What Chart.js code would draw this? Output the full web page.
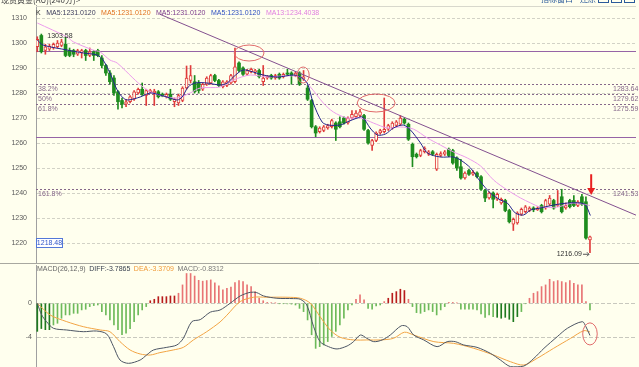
<!DOCTYPE html>
<html>
<head>
<meta charset="utf-8">
<title>现货黄金(AU)(240分)</title>
<script src="https://cdn.jsdelivr.net/npm/chart.js@4.4.1/dist/chart.umd.min.js"></script>
<style>
  html, body { margin: 0; padding: 0; background: #FFFFEE; }
  #stage { position: relative; width: 639px; height: 367px; overflow: hidden; background: #FFFFEE; }
  #priceChart { position: absolute; left: 0; top: 0; }
  #macdChart { position: absolute; left: 0; top: 263px; }
</style>
</head>
<body>
<div id="stage">
  <canvas id="priceChart" width="639" height="264"></canvas>
  <canvas id="macdChart" width="639" height="104"></canvas>
</div>
<script>
// 240 minute bars
var opens = [1298.5,1303,1297,1297.5,1298,1298.5,1299,1299.5,1297,1297,1295.5,1296,1297,1295,1296.5,1297,1294,1291,1288,1286,
  1280.5,1277,1275.5,1276.5,1277.5,1280,1281.5,1279,1280.5,1280,1280.5,1279.5,1278.5,1279.5,1276.5,1276,1277,1282,1285,1284.5,
  1284,1281.5,1283.5,1284,1287,1285,1282.5,1283,1284,1284.5,1292,1290,1287.5,1288.5,1288.5,1289,1284.5,1286,1287,1286,
  1287.5,1286.5,1288,1288,1287,1288,1285.5,1282,1277,1266.5,1264.5,1265,1266,1266.5,1268,1268.5,1270,1268,1270,1270.5,
  1271,1271,1265,1259,1261,1264,1264.5,1265.5,1266,1267,1267.5,1269.5,1267.5,1259.5,1255.5,1255,1256.5,1255.5,1256.5,1249.5,
  1255,1255.5,1257.5,1257,1254,1250.5,1246,1249,1247.5,1248,1246.5,1241,1238,1240,1237.5,1236,1237,1233,1227.5,1228,
  1231.5,1232.5,1233,1234,1233.3,1235,1234,1235.5,1237,1235,1238.5,1234,1237,1237,1235,1238.5,1236.5,1221.2];
var highs = [1302.5,1303.58,1299.5,1299.5,1300,1301,1301.5,1302.5,1298,1297.5,1297.5,1297.5,1297.5,1298,1297,1297.5,1295,1291.5,1289,1287,
  1281,1278,1277.5,1279,1281,1282,1284,1281.5,1281.5,1281.5,1281,1280,1280,1281.5,1278,1279.5,1282.5,1290.8,1291,1287,
  1285,1284,1286.5,1287.5,1287.5,1285.5,1285,1285,1287.5,1298,1292.5,1290.5,1289.5,1290,1289.5,1289.5,1291,1287,1287.5,1287.5,
  1288,1288,1289.5,1288.5,1288.5,1288.5,1289,1283,1277.5,1267,1266.5,1267,1267.5,1269.5,1268.5,1270.5,1270.5,1270.5,1273,1273,
  1273.5,1271.5,1265.5,1261.5,1264.5,1265.5,1278,1267.5,1268.5,1269,1271,1270,1268,1260,1256,1257.5,1258.5,1257,1257,1256,
  1256.5,1257,1258,1257.5,1254.5,1253.5,1248.5,1249.5,1249,1248.5,1247,1241.5,1240.5,1240.5,1240,1238,1237.5,1233.5,1230,1232.5,
  1234,1235,1234.5,1234.5,1234.5,1235.5,1237.5,1239,1237.5,1241,1241.5,1236,1237.5,1239,1237,1239.5,1238.5,1222.8];
var lows = [1296.5,1296,1295.5,1297,1297.5,1298,1298.5,1294.5,1294.5,1294.5,1295,1294,1293,1294.5,1293,1294.5,1290,1287,1283.5,1279,
  1273.5,1274,1274.5,1276,1277,1279.5,1279,1275,1280,1275,1278,1278.5,1278,1277,1274.5,1275,1276.5,1281.5,1284,1280,
  1280,1281,1283,1283.5,1284.5,1282.5,1282,1282.5,1283.5,1284,1288.5,1287,1287,1288,1287.5,1286,1283,1285.5,1285.5,1285.5,
  1285.5,1286,1287,1283.5,1286.5,1283,1285,1277,1266,1262.5,1264,1264.5,1265.5,1266,1261,1266,1267.5,1267.5,1269.5,1270,
  1270.5,1265,1259.5,1257,1260.5,1263.5,1264,1265,1265.5,1266.5,1267,1267.5,1261,1250.5,1254,1254.5,1256,1255,1255,1249,
  1254.5,1255,1254.5,1251.5,1249,1245.5,1245.5,1247,1247,1246,1241,1236.5,1237.5,1234,1237,1235.5,1232.5,1228,1225,1227.5,
  1231,1232,1232.5,1232.5,1233,1232,1233.5,1235,1233.5,1234.5,1232,1233.5,1234,1234.5,1234.5,1235,1221.5,1216.09];
var closes = [1301.5,1296.5,1298.5,1298.8,1299.5,1300,1300.5,1295,1295,1295.5,1297,1297,1295,1296.5,1295,1295,1291,1288,1284.5,1280,
  1276.5,1275.5,1276.5,1278.5,1280.5,1281.5,1279.5,1281,1281,1280.8,1278.5,1278.8,1279.5,1277.5,1277.5,1279,1282,1286,1287,1280.5,
  1281,1283.5,1286,1287,1285,1283,1284.5,1284.5,1287,1290.5,1289,1287.5,1289,1289.5,1289,1286.5,1286,1286.8,1286,1287,
  1286,1287.5,1287.5,1287,1288,1283.5,1286.5,1277.5,1266.5,1264,1266,1266.5,1267,1269,1265.5,1266.5,1268,1270,1271.5,1272,
  1272.5,1265.5,1260,1261,1264,1265,1265.5,1267,1268,1268.5,1270,1268,1261.5,1254.5,1254.5,1257,1258,1256.5,1255.5,1255.5,
  1255.8,1256.5,1255,1252,1250,1246,1248,1247.5,1248.3,1246.5,1241.5,1238,1240,1237.5,1239.5,1237.5,1233,1228.5,1229.5,1232,
  1233.5,1234.5,1234,1233.3,1234,1232.5,1237,1238,1234,1235.5,1232.5,1235,1234.5,1235,1236.5,1235.5,1222,1222.5];

// moving averages as [bar, price]
var ma5Points = [[0,1301.2],[1.4,1299.2],[7.4,1297.2],[11.4,1296],[14.8,1295.2],[16.3,1293.2],[18,1288],[19.8,1281.2],[21.3,1278],[22.5,1277.2],
  [25.5,1278.4],[28,1280],[30.4,1279.2],[32.9,1278],[34.7,1277.2],[35.9,1278.4],[37.4,1282.4],[39.1,1284],[42.1,1284],[45.3,1283.2],
  [47.1,1284],[48.6,1286.4],[51,1289.2],[53.5,1288.4],[56,1287.2],[59.5,1286.4],[63.5,1287.2],[65.2,1286.4],[66.9,1284],[68.4,1276],
  [70.6,1268.4],[72.1,1267.2],[75.1,1267.2],[76.8,1268.4],[79.3,1270],[80.6,1270.4],[82.5,1266],[84.3,1263.2],[86.3,1263.6],[88.3,1266],
  [90.7,1267.2],[92.5,1265.2],[95,1260],[96.7,1256],[99.9,1254.4],[103.2,1254.4],[104.9,1253.2],[107.4,1250],[109.9,1244.4],[112.3,1240],
  [114.8,1237.2],[116.5,1236],[118.5,1232],[120.5,1231.2],[122.3,1233.2],[124.7,1234],[128,1235.2],[131.4,1236],[134.7,1236],[135.9,1235.2],[137.1,1231]];
var ma13Points = [[0,1308],[7.4,1302.4],[8.9,1300.5],[13.8,1297.2],[15.6,1296.4],[18,1293.2],[19.8,1292],[23.7,1286],[26.2,1282.4],[28.7,1280],
  [32.2,1278.4],[34.7,1278],[37.9,1280],[40.4,1282],[45.3,1282.4],[48.6,1285.2],[52.8,1287.2],[57,1286.4],[61,1286.8],[65.2,1286.4],
  [67.7,1282.4],[70.9,1276],[73.4,1272.4],[76.8,1270],[80.1,1270],[83.3,1268],[86.8,1266],[90,1266.4],[93.2,1265.6],[96.7,1262],
  [99.9,1259.2],[103.2,1256.4],[106.6,1254],[109.9,1250.8],[113.1,1245.2],[116.5,1241.2],[119.8,1238],[122.3,1236],[124.7,1234.4],[128.9,1234.4],
  [132.9,1236],[137,1235]];

// MACD(26,12,9)
var macdHist = [-3.3,-2.97,-3.1,-3.1,-2.55,-2.35,-1.76,-1.37,-1.37,-1.18,-1.18,-0.78,-0.7,-0.39,-0.27,-0.2,-0.98,-1.37,-1.96,-2.55,
  -3.1,-3.7,-3.5,-2.97,-2.16,-1.37,-0.78,-0.39,0.3,0.47,0.78,0.78,0.78,0.86,0.86,1.18,2.16,3.5,3.5,3.2,
  2.7,2.6,2.67,2.75,2.4,2.04,1.57,1.76,1.9,2.43,2.67,2.55,2.16,1.96,1.37,0.59,0.3,0.1,0.07,0.03,
  -0.05,-0.05,-0.07,-0.1,-0.2,-0.6,-0.98,-1.96,-3.7,-5.3,-5.1,-4.9,-4.5,-3.9,-3.3,-2.55,-1.76,-0.78,-0.2,0.47,
  0.98,0.4,-0.6,-0.7,-0.3,-0.2,0.2,0.59,1.18,1.37,1.65,1.5,0.47,-0.39,-1.1,-1.18,-0.98,-0.78,-0.98,-1.37,
  -0.78,-0.39,0.1,0.1,0.03,-0.7,-0.7,-0.7,-0.7,-0.78,-1.25,-1.65,-1.37,-1.57,-1.65,-1.76,-1.65,-1.88,-2.16,-1.57,
  -0.98,-0.05,0.59,1.18,1.37,1.96,2.16,2.82,2.55,2.67,2.55,2.43,2.67,2.35,2.16,2.16,0.2,-0.78];
var diffPoints = [[0,0],[1.1,-1.38],[2.3,-2.16],[4,-2.94],[7.3,-3.14],[11.4,-3.34],[14.7,-3.26],[17.2,-3.61],[18.9,-5.1],[20.5,-6.67],
  [22.6,-7.06],[25.5,-6.67],[27.1,-6.08],[28.8,-5.49],[32.1,-5.18],[34.6,-4.9],[36.2,-4.12],[38.3,-2.16],[40.4,-1.92],[42.9,-1.04],
  [45.3,-0.79],[47.8,0],[50.3,0.86],[52.8,1.29],[54.4,1.25],[56.1,0.86],[59.4,0.59],[63.5,0.55],[65.2,0.47],[66.8,-0.2],
  [68.5,-2.75],[70.1,-4.51],[72.2,-5.1],[74.3,-5.37],[76.8,-5.02],[78.4,-4.51],[80.1,-3.73],[81.7,-4.12],[83.4,-4.51],[85.5,-4.31],
  [87.5,-3.73],[90.2,-2.65],[91.7,-2.75],[93.3,-3.73],[95.8,-4.31],[99.1,-5.1],[101.6,-4.51],[103.6,-4.51],[105.7,-4.9],[109,-5.18],
  [112.3,-5.88],[114.8,-6.67],[117.3,-7.45],[120.6,-7.38],[123.1,-6.47],[125.6,-5.29],[128.9,-3.92],[131.4,-2.94],[135.1,-2.16],[136,-2.75],[137,-3.79]];
var deaPoints = [[0,0],[3.2,-1.38],[7.3,-2.16],[11.4,-2.75],[15.6,-3.14],[18,-3.34],[20.5,-4.51],[23,-5.49],[25.5,-5.96],[28,-6.08],
  [30.4,-5.8],[33.7,-5.49],[36.2,-5.18],[38.7,-4.31],[42,-3.34],[45.3,-2.2],[47,-1.4],[50.3,0.2],[53.6,0.71],[56.9,0.71],
  [61.9,0.71],[65.2,0.59],[67.7,0],[70.1,-1.57],[72.6,-3.14],[75.1,-4],[78.4,-4.31],[81.7,-4.31],[85,-4.31],[88.3,-4.12],
  [91,-3.4],[93.3,-3.73],[98.3,-4.51],[103.2,-4.71],[108.2,-5.29],[113.1,-6.08],[117.3,-6.87],[120.6,-7.26],[123.9,-6.47],[128,-5.29],
  [132.2,-4.12],[135.5,-3.22],[137,-3.37]];

var priceTicks = [1220, 1230, 1240, 1250, 1260, 1270, 1280, 1290, 1300, 1310];
var macdTicks = [0, -4];

// fibonacci retracement drawn on the chart
var boxLevels = [1296.66, 1262.59];
var fibLevels = [1283.64, 1279.62, 1275.59, 1241.53];
var fibNames = ['38.2%', '50%', '61.8%', '161.8%'];
var trendPoints = [[30.4, 1311.5], [149.5, 1230.4]];
var lastPrice = 1218.48;

var legendItems = [['K', '#333333'], ['MA5:1231.0120', '#3C3C5C'], ['MA5:1231.0120', '#E0701E'],
  ['MA5:1231.0120', '#7A3A8A'], ['MA5:1231.0120', '#2F4FC0'], ['MA13:1234.4038', '#E07EE0']];
var macdLegend = [['MACD(26,12,9)', '#666666'], ['DIFF:-3.7865', '#3A4250'], ['DEA:-3.3709', '#F09A38'], ['MACD:-0.8312', '#777777']];

var BG = '#FFFFEE';
var UP = '#E03C3C';
var DOWN = '#1E8C1E';
var FONT = '"Liberation Sans", Arial, sans-serif';
var X_MIN = -0.322, X_MAX = 148.41;

function isUp(i) { return closes[i] >= opens[i]; }

function toXY(points) {
  return points.map(function(p) { return { x: p[0], y: p[1] }; });
}

function drawRun(ctx, items, x, y, gap) {
  items.forEach(function(it) {
    ctx.fillStyle = it[1];
    ctx.fillText(it[0], x, y);
    x += ctx.measureText(it[0]).width + gap;
  });
}

function ring(ctx, xs, ys, cx, cy, dx, dy) {
  var px = xs.getPixelForValue(cx), py = ys.getPixelForValue(cy);
  var rx = Math.abs(xs.getPixelForValue(cx + dx) - px);
  var ry = Math.abs(ys.getPixelForValue(cy + dy) - py);
  ctx.beginPath();
  ctx.ellipse(px, py, rx, ry, 0, 0, Math.PI * 2);
  ctx.stroke();
}

// keep the axis from pushing the plot area in for its end labels
function fixAxis(axis) {
  axis.width = 36;
  axis.paddingTop = 0;
  axis.paddingBottom = 0;
}

var priceOverlay = {
  id: 'priceOverlay',
  beforeDatasetsDraw: function(chart) {
    var ctx = chart.ctx, a = chart.chartArea, ys = chart.scales.y;
    ctx.save();
    ctx.lineWidth = 1;
    ctx.strokeStyle = '#9664A6';
    boxLevels.forEach(function(v) {
      var py = Math.round(ys.getPixelForValue(v)) + 0.5;
      ctx.beginPath(); ctx.moveTo(a.left, py); ctx.lineTo(a.right, py); ctx.stroke();
    });
    ctx.setLineDash([2, 2]);
    ctx.strokeStyle = '#86688A';
    ctx.font = '7px ' + FONT;
    ctx.fillStyle = '#86688A';
    ctx.textBaseline = 'top';
    fibLevels.forEach(function(v, k) {
      var py = Math.round(ys.getPixelForValue(v)) + 0.5;
      ctx.beginPath(); ctx.moveTo(a.left, py); ctx.lineTo(a.right, py); ctx.stroke();
      ctx.fillText(fibNames[k], a.left + 2, py + 1);
      ctx.fillText(v.toFixed(2), a.right - 23, py + 1);
    });
    ctx.restore();
  },
  afterDatasetsDraw: function(chart) {
    var ctx = chart.ctx, a = chart.chartArea, xs = chart.scales.x, ys = chart.scales.y;
    ctx.save();
    ctx.font = '7px ' + FONT;
    ctx.textBaseline = 'middle';

    // highest and lowest marks
    var hi = highs.indexOf(Math.max.apply(null, highs));
    var lo = lows.indexOf(Math.min.apply(null, lows));
    ctx.fillStyle = '#333333';
    ctx.fillText(highs[hi].toFixed(2), xs.getPixelForValue(hi) + 6, ys.getPixelForValue(highs[hi]) + 2);
    var lx = xs.getPixelForValue(lo), ly = ys.getPixelForValue(lows[lo]) + 1;
    ctx.textAlign = 'right';
    ctx.fillText(lows[lo].toFixed(2), lx - 8, ly);
    ctx.strokeStyle = '#555555';
    ctx.beginPath(); ctx.moveTo(lx - 7, ly + 0.5); ctx.lineTo(lx - 1, ly + 0.5);
    ctx.moveTo(lx - 3, ly - 1.5); ctx.lineTo(lx - 1, ly + 0.5); ctx.lineTo(lx - 3, ly + 2.5); ctx.stroke();

    // price box on the left
    var by = Math.round(ys.getPixelForValue(lastPrice) - 4);
    ctx.fillStyle = '#FFFFFF';
    ctx.fillRect(a.left + 0.5, by - 4.5, 26, 9);
    ctx.strokeStyle = '#5478D8';
    ctx.strokeRect(a.left + 0.5, by - 4.5, 26, 9);
    ctx.fillStyle = '#2F55C8';
    ctx.textAlign = 'center';
    ctx.fillText(lastPrice.toFixed(2), a.left + 13.5, by + 0.5);

    // hand drawn marks
    ctx.strokeStyle = '#E06A6A';
    ctx.lineWidth = 1;
    ring(ctx, xs, ys, 52.5, 1296, 3.7, 3.2);
    ring(ctx, xs, ys, 65.9, 1287.2, 1.5, 3.2);
    ring(ctx, xs, ys, 84, 1276, 4.7, 3.6);
    var ax = xs.getPixelForValue(137.3), ay0 = ys.getPixelForValue(1247.5), ay1 = ys.getPixelForValue(1239.2);
    ctx.fillStyle = '#E82020';
    ctx.fillRect(ax - 1, ay0, 2, ay1 - ay0 - 5);
    ctx.beginPath(); ctx.moveTo(ax - 4, ay1 - 7); ctx.lineTo(ax + 4, ay1 - 7); ctx.lineTo(ax, ay1); ctx.closePath(); ctx.fill();

    // legend line
    ctx.textAlign = 'left';
    ctx.font = '7px ' + FONT;
    drawRun(ctx, legendItems, a.left, 13.5, 5.5);
    ctx.restore();
  },
  afterDraw: function(chart) {
    var ctx = chart.ctx, a = chart.chartArea;
    ctx.save();
    ctx.strokeStyle = '#D8D8CC';
    ctx.beginPath(); ctx.moveTo(a.left, 6.5); ctx.lineTo(a.right, 6.5); ctx.stroke();
    ctx.font = '8px "Noto Sans CJK SC", sans-serif';
    ctx.textBaseline = 'bottom';
    ctx.fillStyle = '#444444';
    ctx.fillText('现货黄金(AU)(240分)>', 1, 4);
    ctx.fillStyle = '#2A5A9A';
    ctx.fillText('指标窗口', 541, 3);
    ctx.fillText('还原', 580, 3);
    ctx.strokeStyle = '#2A5A9A';
    [598, 611, 624].forEach(function(x) { ctx.strokeRect(x + 0.5, -4.5, 10, 7); });
    ctx.restore();
  }
};

var macdOverlay = {
  id: 'macdOverlay',
  afterDatasetsDraw: function(chart) {
    var ctx = chart.ctx, a = chart.chartArea, xs = chart.scales.x, ys = chart.scales.y;
    ctx.save();
    ctx.strokeStyle = '#E06A6A';
    ring(ctx, xs, ys, 137, -3.6, 1.8, 1.3);
    ctx.font = '7px ' + FONT;
    ctx.textBaseline = 'middle';
    drawRun(ctx, macdLegend, a.left + 1, 6.5, 3.5);
    ctx.strokeStyle = '#A8A8A0';
    ctx.beginPath(); ctx.moveTo(0, 0.5); ctx.lineTo(chart.width, 0.5); ctx.stroke();
    ctx.restore();
  }
};

function barColor(c) {
  var i = c.dataIndex, v = macdHist[i];
  var dark = (i <= 3) || (i >= 28 && i <= 34) || (i >= 87 && i <= 91) || (i >= 114 && i <= 119);
  if (v >= 0) return dark ? '#B81C1C' : '#E87474';
  return dark ? '#1E7A1E' : '#6DBA5A';
}

var xScale = { type: 'linear', min: X_MIN, max: X_MAX, display: false, offset: false, grid: { offset: false } };

var priceChart = new Chart(document.getElementById('priceChart'), {
  type: 'bar',
  data: {
    datasets: [{
      label: 'wick',
      data: opens.map(function(o, i) { return { x: i, y: [lows[i], highs[i]] }; }),
      backgroundColor: function(c) { return isUp(c.dataIndex) ? UP : DOWN; },
      barThickness: 1,
      grouped: false,
      order: 4
    }, {
      label: 'body',
      data: opens.map(function(o, i) { return { x: i, y: [o, closes[i]] }; }),
      backgroundColor: function(c) { return isUp(c.dataIndex) ? BG : DOWN; },
      borderColor: function(c) { return isUp(c.dataIndex) ? UP : DOWN; },
      borderWidth: function(c) { return isUp(c.dataIndex) ? 1 : 0; },
      borderSkipped: false,
      minBarLength: 1,
      barThickness: 3,
      grouped: false,
      order: 3
    }, {
      type: 'line',
      label: 'MA13',
      data: toXY(ma13Points),
      borderColor: '#EC9CEC',
      borderWidth: 1,
      pointRadius: 0,
      tension: 0.3,
      order: 2
    }, {
      type: 'line',
      label: 'MA5',
      data: toXY(ma5Points),
      borderColor: '#24248C',
      borderWidth: 1,
      pointRadius: 0,
      tension: 0.3,
      order: 1
    }, {
      type: 'line',
      label: 'trend',
      data: toXY(trendPoints),
      borderColor: '#83508F',
      borderWidth: 1,
      pointRadius: 0,
      order: 0
    }]
  },
  options: {
    responsive: false,
    animation: false,
    events: [],
    devicePixelRatio: 1,
    layout: { padding: { top: 5, right: 3, bottom: 1, left: 0 } },
    plugins: { legend: { display: false }, tooltip: { enabled: false } },
    scales: {
      x: xScale,
      y: {
        type: 'linear', min: 1212, max: 1315.2,
        afterFit: fixAxis,
        afterBuildTicks: function(axis) { axis.ticks = priceTicks.map(function(v) { return { value: v }; }); },
        ticks: { color: '#5A5A5A', padding: 9, font: { family: FONT, size: 7 }, callback: function(v) { return String(v); } },
        grid: { color: '#D2D2C6', drawTicks: false },
        border: { color: '#A0A0A0', dash: [3, 2] }
      }
    }
  },
  plugins: [priceOverlay]
});

var macdChart = new Chart(document.getElementById('macdChart'), {
  type: 'bar',
  data: {
    datasets: [{
      label: 'MACD',
      data: macdHist.map(function(v, i) { return { x: i, y: v }; }),
      backgroundColor: barColor,
      barThickness: 1,
      grouped: false,
      order: 2
    }, {
      type: 'line',
      label: 'DEA',
      data: toXY(deaPoints),
      borderColor: '#F2A444',
      borderWidth: 1,
      pointRadius: 0,
      tension: 0.3,
      order: 1
    }, {
      type: 'line',
      label: 'DIFF',
      data: toXY(diffPoints),
      borderColor: '#4C5564',
      borderWidth: 1,
      pointRadius: 0,
      tension: 0.3,
      order: 0
    }]
  },
  options: {
    responsive: false,
    animation: false,
    events: [],
    devicePixelRatio: 1,
    layout: { padding: { top: 2, right: 3, bottom: 0, left: 0 } },
    plugins: { legend: { display: false }, tooltip: { enabled: false } },
    scales: {
      x: xScale,
      y: {
        type: 'linear', min: -7.49, max: 4.5,
        afterFit: fixAxis,
        afterBuildTicks: function(axis) { axis.ticks = macdTicks.map(function(v) { return { value: v }; }); },
        ticks: { color: '#5A5A5A', padding: 4, font: { family: FONT, size: 7 }, callback: function(v) { return String(v); } },
        grid: { color: '#C8C8BE', drawTicks: false },
        border: { color: '#A0A0A0', dash: [4, 2] }
      }
    }
  },
  plugins: [macdOverlay]
});
</script>
</body>
</html>
